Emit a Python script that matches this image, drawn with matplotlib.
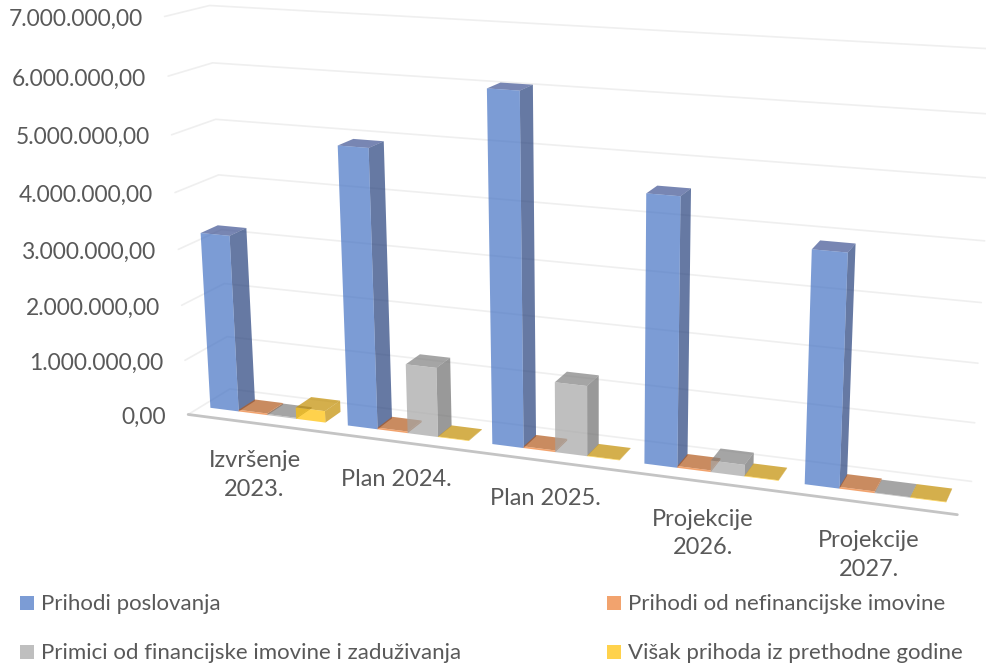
import numpy as np
import matplotlib
matplotlib.use("Agg")
import matplotlib.pyplot as plt
from matplotlib.patches import Polygon, Rectangle

plt.rcParams['font.family'] = ['Lato', 'DejaVu Sans']

categories = ["Izvršenje\n2023.", "Plan 2024.", "Plan 2025.", "Projekcije\n2026.", "Projekcije\n2027."]
series_names = ["Prihodi poslovanja", "Prihodi od nefinancijske imovine",
                "Primici od financijske imovine i zaduživanja", "Višak prihoda iz prethodne godine"]
prihodi_poslovanja = [3200000, 4940000, 6070000, 4560000, 3890000]
prihodi_nefinancijska = [30000, 30000, 30000, 30000, 30000]
primici_financijska = [20000, 1240000, 1230000, 200000, 10000]
visak_prihoda = [210000, 10000, 10000, 10000, 10000]
axis_ticks = [0, 1000000, 2000000, 3000000, 4000000, 5000000, 6000000, 7000000]

series = [prihodi_poslovanja, prihodi_nefinancijska, primici_financijska, visak_prihoda]
face_colors = [  # front, side, top (drawn at alpha .7)
    ("#4472C4", "#25407C", "#3F5393"),
    ("#ED7D31", "#B35A1D", "#B35A1D"),
    ("#A5A5A5", "#6E6E6E", "#7F7F7F"),
    ("#FFC000", "#C28D00", "#C28D00"),
]
TEXT = "#595959"

# camera calibration: box coordinates (category, depth, millions) -> picture pixels
calib = [
    (0, 0, 0, 187, 413), (5, 0, 0, 958, 515), (0, 1, 0, 230, 388), (5, 1, 0, 972, 483),
    (0, 0, 7, 165, 17), (0, 1, 7, 210, 6), (5, 1, 7, 995, 48), (0, 0, 4, 174, 193),
    (0, 1, 4, 218, 175), (5, 1, 4, 985, 240), (5, 1, 1, 975, 423),
    (0.07, .3, 0, 211, 408), (4.93, .3, 0, 948, 502), (4.93, .7, 0, 953, 490),
    (1.07, .3, 0, 348, 426), (2.07, .3, 0, 493, 445), (3.07, .3, 0, 646, 463), (4.07, .3, 0, 806, 484),
]
A, b = [], []
for u, d, v, x, y in calib:
    A.append([u, d, v, 1, 0, 0, 0, 0, -x*u, -x*d, -x*v]); b.append(x)
    A.append([0, 0, 0, 0, u, d, v, 1, -y*u, -y*d, -y*v]); b.append(y)
P = np.linalg.lstsq(np.array(A, float), np.array(b, float), rcond=None)[0]


def project(u, d, value):
    v = value / 1e6
    w = P[8]*u + P[9]*d + P[10]*v + 1
    return ((P[0]*u + P[1]*d + P[2]*v + P[3]) / w, (P[4]*u + P[5]*d + P[6]*v + P[7]) / w)


fig = plt.figure(figsize=(9.87, 6.71), dpi=100)
ax = fig.add_axes([0, 0, 1, 1])
ax.set_xlim(0, 987)
ax.set_ylim(671, 0)
ax.axis("off")

n_cat = len(categories)
for t in axis_ticks:
    pts = [project(0, 0, t), project(0, 1, t), project(n_cat, 1, t)]
    ax.plot(*zip(*pts), color="#EFEFEF", lw=1.2, zorder=1, solid_capstyle="round")
    x0, y0 = pts[0]
    lab = f"{t:,.2f}".replace(",", "#").replace(".", ",").replace("#", ".")
    ax.text(x0 - 22, y0 + 3, lab, ha="right", va="center", fontsize=16.4, color=TEXT)
ax.plot(*zip(project(0, 0, 0), project(n_cat, 0, 0)), color="#C4C4C4", lw=2.0, zorder=2, solid_capstyle="round")

BAR_W = 0.21
GAP = 0.07
D0, D1 = 0.3, 0.7
z = 3
for k in range(n_cat):
    for s, vals in enumerate(series):
        u0 = k + GAP + s * BAR_W
        u1 = u0 + BAR_W
        val = vals[k]
        front, side, top = face_colors[s]
        faces = [
            ([(u0, D0, val), (u1, D0, val), (u1, D1, val), (u0, D1, val)], top),
            ([(u1, D0, 0), (u1, D1, 0), (u1, D1, val), (u1, D0, val)], side),
            ([(u0, D0, 0), (u1, D0, 0), (u1, D0, val), (u0, D0, val)], front),
        ]
        for corners, col in faces:
            ax.add_patch(Polygon([project(*c) for c in corners], closed=True, facecolor=col,
                                 edgecolor="none", alpha=0.7, zorder=z))
            z += 1

for k, lab in enumerate(categories):
    x, y = project(k + 0.5, 0, 0)
    ax.text(x - 2, y + 27, lab, ha="center", va="top", fontsize=17, color=TEXT,
            linespacing=1.45, zorder=200)

legend_pos = [(20, 603), (607, 603), (20, 652), (607, 652)]
for (lx, ly), name, fc in zip(legend_pos, series_names, face_colors):
    ax.add_patch(Rectangle((lx, ly - 7), 14, 14, facecolor=fc[0], alpha=0.7, edgecolor="none"))
    ax.text(lx + 21, ly + 1, name, ha="left", va="center", fontsize=16, color=TEXT)

fig.savefig("out.png", dpi=100)
